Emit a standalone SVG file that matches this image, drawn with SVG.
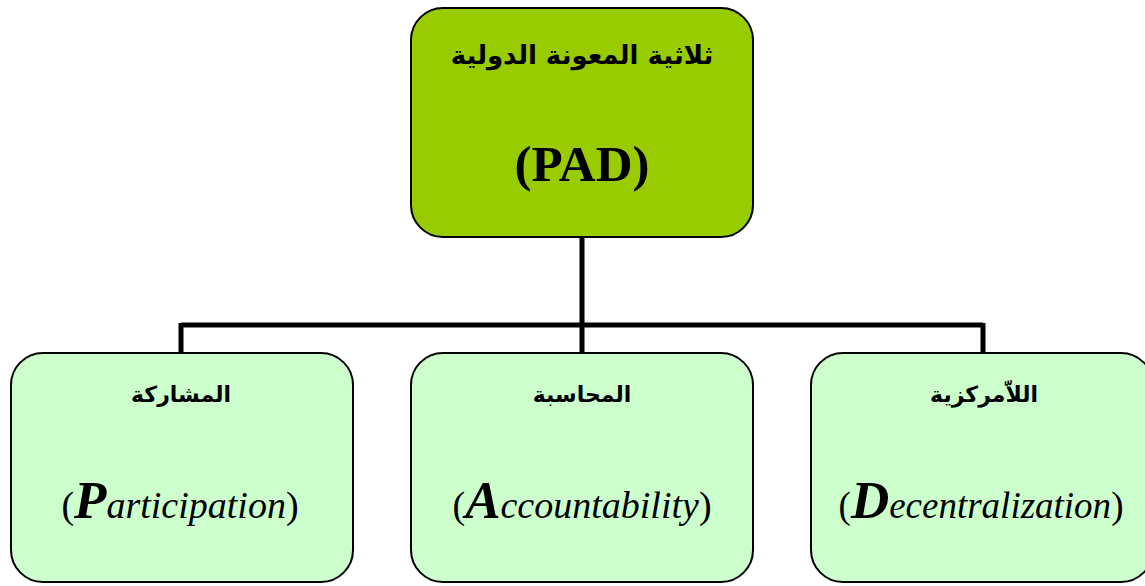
<svg xmlns="http://www.w3.org/2000/svg" width="1145" height="586" viewBox="0 0 1145 586">
  <style>
    .box { stroke: #000; stroke-width: 2; }
    .root { fill: #99CC00; }
    .leaf { fill: #CCFFCC; }
    .ar { font-family: "DejaVu Sans", "Noto Sans", sans-serif; font-weight: bold; text-anchor: middle; fill: #000; }
    .lat { font-family: "Liberation Serif", "Times New Roman", serif; fill: #000; text-anchor: middle; }
    .cap { font-style: italic; font-weight: bold; font-size: 53px; }
    .rest { font-style: italic; }
    .wire { fill: none; stroke: #000; stroke-width: 5; }
  </style>
  <rect width="1145" height="586" fill="#fff"/>

  <!-- tree wiring: trunk from the root, bus bar, three drops -->
  <g id="connectors">
    <path class="wire" d="M582 237 V325 M181 325 H983 M181 323 V353 M582 325 V353 M983 323 V353"/>
  </g>

  <g id="node-pad">
    <rect class="box root" x="411" y="8" width="342" height="229" rx="32"/>
    <text class="ar" x="582" y="64" font-size="26" direction="rtl">ثلاثية المعونة الدولية</text>
    <text class="lat" x="582" y="181" font-size="51" font-weight="bold">(PAD)</text>
  </g>

  <g id="node-participation">
    <rect class="box leaf" x="11" y="353" width="342" height="229" rx="32"/>
    <text class="ar" x="181" y="402" font-size="22" direction="rtl">المشاركة</text>
    <text class="lat" x="180" y="518" font-size="38">(<tspan class="cap">P</tspan><tspan class="rest">articipation</tspan>)</text>
  </g>

  <g id="node-accountability">
    <rect class="box leaf" x="411" y="353" width="342" height="229" rx="32"/>
    <text class="ar" x="582" y="402" font-size="22" direction="rtl">المحاسبة</text>
    <text class="lat" x="582" y="518" font-size="38">(<tspan class="cap">A</tspan><tspan class="rest">ccountability</tspan>)</text>
  </g>

  <g id="node-decentralization">
    <rect class="box leaf" x="811" y="353" width="342" height="229" rx="32"/>
    <text class="ar" x="984" y="402" font-size="22" direction="rtl">اللاّمركزية</text>
    <text class="lat" x="981" y="518" font-size="37">(<tspan class="cap">D</tspan><tspan class="rest">ecentralization</tspan>)</text>
  </g>
</svg>
